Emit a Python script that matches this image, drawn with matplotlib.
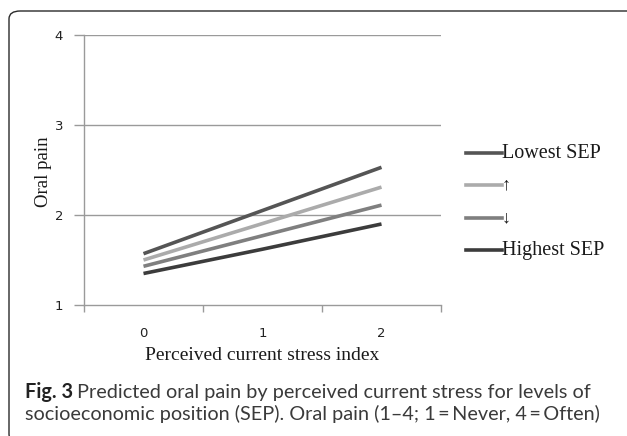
import matplotlib
matplotlib.use("Agg")
import matplotlib.pyplot as plt
from matplotlib.patches import FancyBboxPatch

# ---- data ----
x_categories = ["0", "1", "2"]
series_names = ["Lowest SEP", "\u2191", "\u2193", "Highest SEP"]
lowest_sep = [1.57, 2.05, 2.53]
up_sep = [1.50, 1.905, 2.31]
down_sep = [1.43, 1.77, 2.11]
highest_sep = [1.35, 1.62, 1.90]
y_ticks = [1, 2, 3, 4]
series_values = [lowest_sep, up_sep, down_sep, highest_sep]
series_colors = ["#555555", "#ababab", "#7f7f7f", "#3c3c3c"]

W, H = 627, 436
fig = plt.figure(figsize=(W / 100, H / 100), dpi=100)

def fx(px):
    return px / W

def fy(py):
    return 1 - py / H

# border
border = FancyBboxPatch((fx(9), fy(442)), fx(640) - fx(9), fy(11) - fy(442),
                        boxstyle="round,pad=0,rounding_size=0.018",
                        transform=fig.transFigure, fill=False,
                        edgecolor="#2a2a2a", linewidth=1.0, clip_on=False)
fig.patches.append(border)

ax_left, ax_right, ax_top, ax_bottom = 84, 441, 35, 305
ax = fig.add_axes([fx(ax_left), fy(ax_bottom), fx(ax_right) - fx(ax_left),
                   fy(ax_top) - fy(ax_bottom)])
ax.set_xlim(-0.5, 2.5)
ax.set_ylim(1, 4)

grid_c = "#9a9a9a"
for v in y_ticks[1:]:
    ax.axhline(v, color=grid_c, lw=1.0, zorder=1)

xs = list(range(len(x_categories)))
lines = []
for name, vals, c in zip(series_names, series_values, series_colors):
    ln, = ax.plot(xs, vals, color=c, lw=2.6, solid_capstyle="butt", zorder=3)
    lines.append(ln)

for s in ["top", "right"]:
    ax.spines[s].set_visible(False)
for s in ["left", "bottom"]:
    ax.spines[s].set_color(grid_c)
    ax.spines[s].set_linewidth(1.0)

ax.set_yticks(y_ticks)
ax.set_yticklabels([str(v) for v in y_ticks], fontsize=9.5, family="DejaVu Sans",
                   color="#222222")
ax.tick_params(axis="y", length=7, width=1.0, color=grid_c, pad=8)

ax.set_xticks([-0.5, 0.5, 1.5, 2.5])
ax.set_xticklabels([])
ax.set_xticks(xs, minor=True)
ax.set_xticklabels(x_categories, minor=True, fontsize=9.5, family="DejaVu Sans",
                   color="#222222")
ax.tick_params(axis="x", which="major", length=5, width=1.0, color=grid_c)
ax.tick_params(axis="x", which="minor", length=0, pad=16)

fig.text(fx(262), fy(355), "Perceived current stress index", fontsize=14,
         family="Liberation Serif", ha="center", va="center", color="#1a1a1a")
fig.text(fx(43), fy(172), "Oral pain", fontsize=13.5, family="Liberation Serif",
         ha="center", va="center", rotation=90, color="#1a1a1a")

# legend (manual, Excel-style)
leg_rows = [153, 185, 218, 250]
for ln, name, row in zip(lines, series_names, leg_rows):
    fig.add_artist(plt.Line2D([fx(466), fx(502)], [fy(row), fy(row)],
                              color=ln.get_color(), lw=2.6,
                              transform=fig.transFigure))
    fs = 14.5 if len(name) > 1 else 13
    fig.text(fx(502), fy(row), name, fontsize=fs, family="Liberation Serif",
             ha="left", va="center", color="#1a1a1a")

# caption
cap_y1, cap_y2 = 392, 414
cap_font = "Lato"
cap_size = 14.3
t1 = fig.text(fx(25), fy(cap_y1), "Fig. 3", fontsize=cap_size, family=cap_font,
              weight="bold", ha="left", va="center", color="#222222")
fig.canvas.draw()
bb = t1.get_window_extent()
t2 = fig.text(bb.x1 / W + fx(4),
              fy(cap_y1), "Predicted oral pain by perceived current stress for levels of",
              fontsize=cap_size, family=cap_font, ha="left",
              va="center", color="#3a3a3a")
t3 = fig.text(fx(25), fy(cap_y2),
              "socioeconomic position (SEP). Oral pain (1\u20134; 1\u2009=\u2009Never, 4\u2009=\u2009Often)",
              fontsize=cap_size, family=[cap_font, "DejaVu Sans"],
              ha="left", va="center", color="#3a3a3a")

fig.savefig("out.png", dpi=100)
